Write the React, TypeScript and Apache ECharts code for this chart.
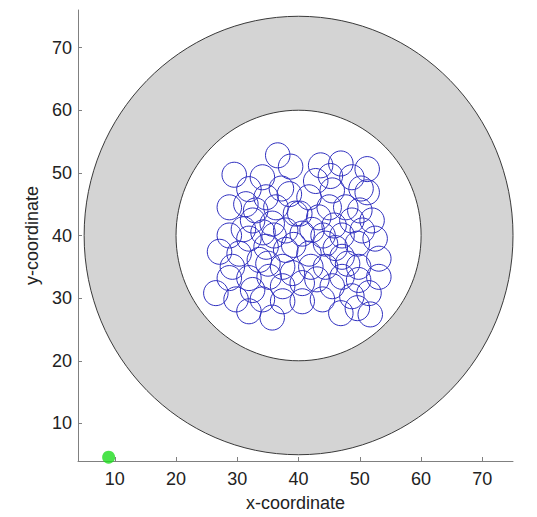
import React, { useEffect, useRef } from "react";
import * as echarts from "echarts";

const xTicks = [10, 20, 30, 40, 50, 60, 70];
const yTicks = [10, 20, 30, 40, 50, 60, 70];
const annulus = [40, 40, 35, 20]; // cx, cy, outer r, inner r
const circleRadius = 2;
const circleX = [
  36.6, 38.7, 29.5, 43.6, 46.9, 51.2, 34.1, 48.7, 42.8, 31.9, 51.2, 45.5, 38.5, 41.7,
  28.7, 31.4, 34.7, 47.7, 45.0, 52.0, 36.3, 39.5, 48.7, 43.3, 32.5, 35.7, 28.7, 52.5,
  47.1, 40.6, 37.9, 31.9, 44.4, 49.6, 27.1, 53.1, 30.3, 34.7, 37.9, 41.7, 47.1, 33.6,
  29.2, 37.4, 44.4, 49.8, 53.1, 28.7, 31.9, 35.2, 40.6, 47.1, 49.8, 26.5, 29.8, 32.5,
  37.4, 45.5, 51.5, 34.1, 40.6, 37.4, 43.9, 48.7, 31.9, 35.7, 46.9, 49.6, 51.7, 50.4,
  42.2, 45.8, 33.0, 36.0, 34.2, 39.2, 42.0, 40.2, 44.0, 46.0, 50.0, 48.0, 35.0, 39.0,
  43.0, 31.0, 37.2, 45.2, 50.2
];
const circleY = [
  52.8, 51.0, 49.7, 51.2, 51.5, 50.6, 49.3, 49.3, 48.7, 47.4, 46.9, 47.2, 46.6, 46.1,
  44.5, 45.0, 46.1, 44.5, 44.5, 42.4, 44.5, 43.5, 42.4, 42.9, 42.4, 41.9, 40.0, 39.5,
  40.0, 40.3, 40.8, 39.5, 38.7, 38.7, 37.4, 36.3, 37.1, 38.2, 37.7, 37.1, 36.6, 36.1,
  35.0, 35.0, 35.0, 35.0, 33.4, 33.2, 33.2, 33.4, 32.4, 33.4, 32.9, 30.8, 29.8, 31.3,
  31.9, 31.9, 30.8, 29.8, 29.5, 29.5, 29.8, 30.3, 27.9, 26.9, 27.6, 28.4, 27.4, 40.8,
  40.9, 41.6, 44.0, 40.0, 40.5, 38.5, 35.0, 43.5, 40.0, 38.0, 44.0, 35.5, 35.5, 34.0,
  33.0, 41.0, 47.5, 49.5, 47.5
];
const sourcePoint = [9, 4.6];

export default function App() {
  const ref = useRef<HTMLDivElement>(null);
  useEffect(() => {
    document.body.style.margin = "0";
    const chart = echarts.init(ref.current!, null, { renderer: "svg" });
    const font = "Arial, 'Liberation Sans', sans-serif";
    const axisCommon = {
      axisLine: { show: true, lineStyle: { color: "#808080", width: 1 } },
      axisTick: { show: true, inside: true, length: 4, lineStyle: { color: "#808080" } },
      splitLine: { show: false },
      nameLocation: "middle",
    };
    chart.setOption({
      animation: false,
      backgroundColor: "#ffffff",
      grid: { left: 78, right: 24, top: 10, bottom: 54, containLabel: false },
      xAxis: {
        type: "value",
        min: 4,
        max: 75,
        ...axisCommon,
        axisTick: { ...axisCommon.axisTick, customValues: xTicks },
        axisLabel: { customValues: xTicks, color: "#222", fontSize: 18, fontFamily: font, margin: 9 },
        name: "x-coordinate",
        nameGap: 33,
        nameTextStyle: { color: "#222", fontSize: 18, fontFamily: font },
      },
      yAxis: {
        type: "value",
        min: 4,
        max: 76,
        ...axisCommon,
        axisTick: { ...axisCommon.axisTick, customValues: yTicks },
        axisLabel: { customValues: yTicks, color: "#222", fontSize: 18, fontFamily: font, margin: 6 },
        name: "y-coordinate",
        nameGap: 35,
        nameTextStyle: { color: "#222", fontSize: 18, fontFamily: font },
      },
      series: [
        {
          type: "custom",
          z: 1,
          silent: true,
          data: [annulus],
          renderItem: (params: any, api: any) => {
            const c = api.coord([api.value(0), api.value(1)]);
            const ro = api.size([api.value(2), api.value(2)]);
            const ri = api.size([api.value(3), api.value(3)]);
            return {
              type: "group",
              children: [
                {
                  type: "ellipse",
                  shape: { cx: c[0], cy: c[1], rx: ro[0], ry: ro[1] },
                  style: { fill: "#d4d4d4", stroke: "#3a3a3a", lineWidth: 1 },
                },
                {
                  type: "ellipse",
                  shape: { cx: c[0], cy: c[1], rx: ri[0], ry: ri[1] },
                  style: { fill: "#ffffff", stroke: "#3a3a3a", lineWidth: 1 },
                },
              ],
            };
          },
        },
        {
          type: "custom",
          z: 2,
          silent: true,
          data: circleX.map((x, i) => [x, circleY[i], circleRadius]),
          renderItem: (params: any, api: any) => {
            const c = api.coord([api.value(0), api.value(1)]);
            const r = api.size([api.value(2), api.value(2)]);
            return {
              type: "ellipse",
              shape: { cx: c[0], cy: c[1], rx: r[0], ry: r[1] },
              style: { fill: "none", stroke: "#3030c0", lineWidth: 1 },
            };
          },
        },
        {
          type: "scatter",
          z: 3,
          symbol: "circle",
          symbolSize: 13,
          itemStyle: { color: "#1edc1e" },
          data: [sourcePoint],
        },
      ],
    });
    return () => chart.dispose();
  }, []);
  return <div ref={ref} style={{ width: 537, height: 517 }} />;
}
